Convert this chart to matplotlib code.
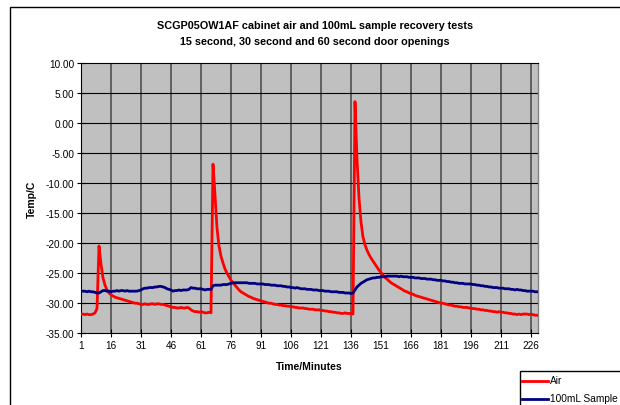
import matplotlib
matplotlib.use("Agg")
import matplotlib.pyplot as plt
from matplotlib.patches import Rectangle
from matplotlib.lines import Line2D

plt.rcParams['font.family'] = ['Liberation Sans', 'DejaVu Sans']

# minute index (category axis, 1..229)
air = [
    -31.8, -31.8, -31.9, -31.8, -31.9, -31.9, -31.8, -31.6, -30.9, -20.5,
    -23.5, -25.8, -27.0, -27.8, -28.3, -28.6, -28.8, -29.0, -29.1, -29.2,
    -29.3, -29.4, -29.5, -29.6, -29.7, -29.8, -29.9, -30.0, -30.0, -30.1,
    -30.2, -30.2, -30.1, -30.2, -30.2, -30.1, -30.1, -30.2, -30.1, -30.1,
    -30.2, -30.2, -30.3, -30.4, -30.5, -30.6, -30.7, -30.7, -30.8, -30.8,
    -30.7, -30.8, -30.8, -30.7, -30.8, -31.1, -31.3, -31.4, -31.4, -31.5,
    -31.4, -31.5, -31.6, -31.6, -31.5, -31.6, -6.9, -12.0, -17.5, -20.5,
    -22.2, -23.3, -24.3, -25.0, -25.6, -26.2, -26.6, -27.0, -27.4, -27.8,
    -28.1, -28.3, -28.5, -28.7, -28.9, -29.0, -29.2, -29.3, -29.4, -29.5,
    -29.6, -29.7, -29.8, -29.9, -30.0, -30.0, -30.1, -30.2, -30.2, -30.3,
    -30.3, -30.4, -30.4, -30.5, -30.5, -30.6, -30.6, -30.7, -30.7, -30.8,
    -30.8, -30.8, -30.9, -30.9, -31.0, -31.0, -31.0, -31.1, -31.1, -31.1,
    -31.2, -31.2, -31.3, -31.3, -31.4, -31.4, -31.5, -31.5, -31.6, -31.6,
    -31.7, -31.7, -31.6, -31.7, -31.7, -31.7, -31.8, 3.5, -6.0, -12.5,
    -16.5, -19.0, -20.3, -21.2, -21.9, -22.5, -23.0, -23.5, -24.0, -24.5,
    -24.9, -25.3, -25.7, -26.0, -26.3, -26.6, -26.8, -27.0, -27.2, -27.4,
    -27.6, -27.8, -28.0, -28.1, -28.3, -28.4, -28.5, -28.7, -28.8, -28.9,
    -29.0, -29.1, -29.2, -29.3, -29.4, -29.5, -29.6, -29.7, -29.8, -29.9,
    -30.0, -30.0, -30.1, -30.2, -30.3, -30.3, -30.4, -30.5, -30.5, -30.6,
    -30.6, -30.7, -30.7, -30.7, -30.8, -30.8, -30.9, -30.9, -31.0, -31.0,
    -31.1, -31.1, -31.2, -31.2, -31.3, -31.3, -31.4, -31.4, -31.5, -31.4,
    -31.5, -31.5, -31.6, -31.6, -31.7, -31.7, -31.8, -31.8, -31.9, -31.8,
    -31.9, -31.8, -31.8, -31.8, -31.9, -31.8, -31.9, -32.0, -32.0,
]

sample = [
    -28.0, -28.0, -28.0, -28.1, -28.0, -28.1, -28.1, -28.2, -28.3, -28.3,
    -28.1, -27.9, -27.9, -28.0, -28.0, -28.1, -28.0, -28.0, -27.9, -28.0,
    -27.9, -27.9, -28.0, -27.9, -28.0, -28.0, -28.0, -28.0, -28.0, -27.9,
    -27.8, -27.6, -27.5, -27.5, -27.4, -27.4, -27.4, -27.3, -27.3, -27.2,
    -27.2, -27.3, -27.4, -27.6, -27.7, -27.8, -28.0, -27.9, -27.9, -27.8,
    -27.9, -27.8, -27.8, -27.8, -27.7, -27.4, -27.5, -27.5, -27.6, -27.6,
    -27.6, -27.7, -27.8, -27.7, -27.7, -27.7, -27.1, -27.0, -27.0, -27.0,
    -27.0, -26.9, -26.9, -26.9, -26.8, -26.7, -26.6, -26.6, -26.6, -26.6,
    -26.6, -26.6, -26.6, -26.6, -26.7, -26.7, -26.7, -26.7, -26.8, -26.8,
    -26.8, -26.8, -26.9, -26.9, -26.9, -27.0, -27.0, -27.0, -27.1, -27.1,
    -27.1, -27.2, -27.2, -27.3, -27.3, -27.4, -27.4, -27.5, -27.4, -27.5,
    -27.6, -27.6, -27.6, -27.7, -27.7, -27.7, -27.8, -27.8, -27.8, -27.9,
    -27.9, -27.9, -28.0, -28.0, -28.0, -28.1, -28.1, -28.1, -28.1, -28.2,
    -28.2, -28.2, -28.3, -28.3, -28.3, -28.4, -28.3, -27.8, -27.3, -27.0,
    -26.7, -26.5, -26.3, -26.1, -26.0, -25.9, -25.8, -25.8, -25.7, -25.7,
    -25.6, -25.6, -25.6, -25.5, -25.5, -25.5, -25.5, -25.5, -25.5, -25.6,
    -25.5, -25.6, -25.6, -25.6, -25.7, -25.7, -25.7, -25.8, -25.8, -25.8,
    -25.9, -25.9, -25.9, -26.0, -26.0, -26.0, -26.1, -26.1, -26.2, -26.2,
    -26.2, -26.3, -26.3, -26.4, -26.4, -26.5, -26.5, -26.6, -26.6, -26.7,
    -26.7, -26.7, -26.8, -26.8, -26.8, -26.8, -26.9, -26.9, -27.0, -27.0,
    -27.1, -27.1, -27.2, -27.2, -27.3, -27.3, -27.4, -27.4, -27.4, -27.5,
    -27.5, -27.5, -27.6, -27.6, -27.6, -27.7, -27.7, -27.8, -27.7, -27.8,
    -27.8, -27.9, -27.9, -28.0, -28.0, -28.0, -28.0, -28.1, -28.1,
]

minutes = list(range(1, len(air) + 1))
xticks = list(range(1, 227, 15))
yticks = [10, 5, 0, -5, -10, -15, -20, -25, -30, -35]

W, H = 620, 406
fig = plt.figure(figsize=(W / 100, H / 100), dpi=100)

# outer chart border (runs off the right/bottom of the picture)
fig.add_artist(Rectangle((10 / W, 1 - 430 / H), 640 / W, 422 / H,
                         transform=fig.transFigure, fill=False,
                         edgecolor='black', linewidth=1.0))

ax = fig.add_axes([81 / W, 1 - 334.3 / H, (538 - 81) / W, (334.3 - 63.5) / H])
ax.set_facecolor('#C0C0C0')

ax.plot(minutes, air, color='#FF0000', linewidth=2.0, zorder=3)
ax.plot(minutes, sample, color='#000080', linewidth=2.0, zorder=3)

ax.set_xlim(1, 229.5)
ax.set_ylim(-35, 10)
ax.set_xticks(xticks)
ax.set_yticks(yticks)
ax.set_yticklabels([f'{v:.2f}' for v in yticks])

for x in xticks[1:]:
    ax.axvline(x, color='#606060', linewidth=1.4, zorder=1)
for y in yticks[1:-1]:
    ax.axhline(y, color='black', linewidth=0.8, zorder=2)

for s in ['right']:
    ax.spines[s].set_color('#808080')
    ax.spines[s].set_linewidth(1.0)
for s in ['left', 'bottom', 'top']:
    ax.spines[s].set_color('black')
    ax.spines[s].set_linewidth(0.8)

ax.tick_params(axis='both', direction='inout', length=6, width=0.8,
               labelsize=7.2, pad=2)

ax.set_xlabel('Time/Minutes', fontsize=7.5, fontweight='bold', labelpad=8)
ax.set_ylabel('Temp/C', fontsize=7.5, fontweight='bold', labelpad=6)

fig.text(315 / W, 1 - 26 / H, 'SCGP05OW1AF cabinet air and 100mL sample recovery tests',
         ha='center', va='center', fontsize=7.8, fontweight='bold')
fig.text(315 / W, 1 - 42 / H, '15 second, 30 second and 60 second door openings',
         ha='center', va='center', fontsize=7.8, fontweight='bold')

# legend box, cut off by the picture edge like the original
fig.add_artist(Rectangle((520 / W, 1 - 420 / H), 120 / W, 48.5 / H,
                         transform=fig.transFigure, facecolor='white',
                         edgecolor='black', linewidth=1.0))
for i, (lab, col) in enumerate([('Air', '#FF0000'), ('100mL Sample', '#000080')]):
    yy = 1 - (381.5 + i * 18) / H
    fig.add_artist(Line2D([522 / W, 548 / W], [yy, yy], transform=fig.transFigure,
                          color=col, linewidth=2.0))
    fig.text(550 / W, yy, lab, ha='left', va='center', fontsize=7.3)

fig.savefig('out.png', dpi=100)
